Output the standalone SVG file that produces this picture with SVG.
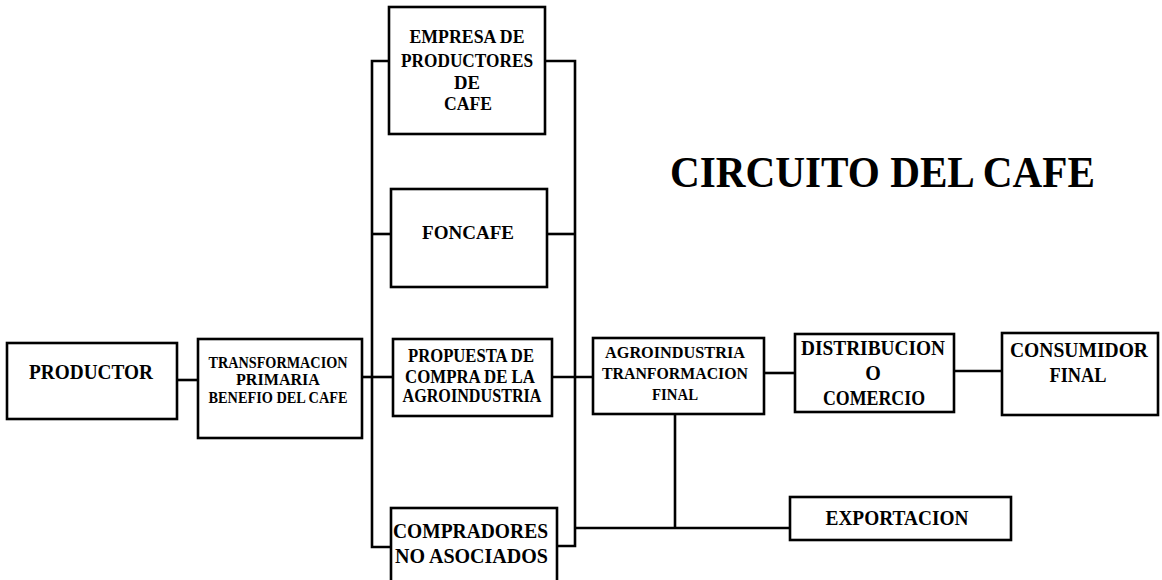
<svg xmlns="http://www.w3.org/2000/svg" width="1162" height="580" viewBox="0 0 1162 580">
<style>
.box{fill:#fff;stroke:#000;stroke-width:2.6}
.ln{fill:none;stroke:#000;stroke-width:2.6}
text{font-family:"Liberation Serif","Times New Roman",serif;font-weight:bold;fill:#000}
.c{text-anchor:middle}
</style>
<rect width="1162" height="580" fill="#fff"/>
<g id="connectors">
<line class="ln" x1="177" y1="380" x2="198" y2="380"/>
<line class="ln" x1="362" y1="377" x2="393" y2="377"/>
<path class="ln" d="M389,61 H372 V547 H391"/>
<path class="ln" d="M545,61 H575 V546 H557"/>
<line class="ln" x1="372" y1="234" x2="391" y2="234"/>
<line class="ln" x1="547" y1="234" x2="575" y2="234"/>
<line class="ln" x1="552" y1="377" x2="593" y2="377"/>
<line class="ln" x1="575" y1="528" x2="790" y2="528"/>
<line class="ln" x1="675" y1="414" x2="675" y2="528"/>
<line class="ln" x1="764" y1="373" x2="795" y2="373"/>
<line class="ln" x1="954" y1="371" x2="1002" y2="371"/>
</g>
<g id="title">
<text x="670" y="187" font-size="44" textLength="425" lengthAdjust="spacingAndGlyphs">CIRCUITO DEL CAFE</text>
</g>
<g id="productor">
<rect class="box" x="7" y="343" width="170" height="76"/>
<text class="c" x="91" y="379" font-size="22" textLength="124" lengthAdjust="spacingAndGlyphs">PRODUCTOR</text>
</g>
<g id="transformacion">
<rect class="box" x="198" y="339" width="164" height="99"/>
<text class="c" x="278" y="368" font-size="16.5" textLength="139" lengthAdjust="spacingAndGlyphs">TRANSFORMACION</text>
<text class="c" x="278" y="385" font-size="16.5" textLength="84" lengthAdjust="spacingAndGlyphs">PRIMARIA</text>
<text class="c" x="278" y="403" font-size="16.5" textLength="139" lengthAdjust="spacingAndGlyphs">BENEFIO DEL CAFE</text>
</g>
<g id="empresa">
<rect class="box" x="389" y="7" width="156" height="127"/>
<text class="c" x="467" y="43" font-size="19" textLength="115" lengthAdjust="spacingAndGlyphs">EMPRESA DE</text>
<text class="c" x="467" y="67" font-size="19" textLength="132" lengthAdjust="spacingAndGlyphs">PRODUCTORES</text>
<text class="c" x="467" y="89" font-size="19" textLength="26" lengthAdjust="spacingAndGlyphs">DE</text>
<text class="c" x="468" y="110" font-size="19" textLength="48" lengthAdjust="spacingAndGlyphs">CAFE</text>
</g>
<g id="foncafe">
<rect class="box" x="391" y="189" width="156" height="98"/>
<text class="c" x="468" y="239" font-size="19.5" textLength="92" lengthAdjust="spacingAndGlyphs">FONCAFE</text>
</g>
<g id="propuesta">
<rect class="box" x="393" y="339" width="159" height="77"/>
<text class="c" x="471" y="362" font-size="18.5" textLength="126" lengthAdjust="spacingAndGlyphs">PROPUESTA DE</text>
<text class="c" x="470" y="383" font-size="18.5" textLength="130" lengthAdjust="spacingAndGlyphs">COMPRA DE LA</text>
<text class="c" x="472" y="402" font-size="18.5" textLength="139" lengthAdjust="spacingAndGlyphs">AGROINDUSTRIA</text>
</g>
<g id="compradores">
<rect class="box" x="391" y="508" width="166" height="80"/>
<text x="393" y="538" font-size="21.5" textLength="155" lengthAdjust="spacingAndGlyphs">COMPRADORES</text>
<text x="395" y="563" font-size="21.5" textLength="153" lengthAdjust="spacingAndGlyphs">NO ASOCIADOS</text>
</g>
<g id="agroindustria">
<rect class="box" x="593" y="338" width="171" height="76"/>
<text class="c" x="675" y="358" font-size="17" textLength="140" lengthAdjust="spacingAndGlyphs">AGROINDUSTRIA</text>
<text class="c" x="675" y="379" font-size="17" textLength="146" lengthAdjust="spacingAndGlyphs">TRANFORMACION</text>
<text class="c" x="675" y="400" font-size="17" textLength="46" lengthAdjust="spacingAndGlyphs">FINAL</text>
</g>
<g id="distribucion">
<rect class="box" x="795" y="334" width="159" height="78"/>
<text class="c" x="873" y="355" font-size="20" textLength="144" lengthAdjust="spacingAndGlyphs">DISTRIBUCION</text>
<text class="c" x="873" y="380" font-size="20">O</text>
<text class="c" x="874" y="405" font-size="20" textLength="102" lengthAdjust="spacingAndGlyphs">COMERCIO</text>
</g>
<g id="consumidor">
<rect class="box" x="1002" y="333" width="156" height="82"/>
<text class="c" x="1079" y="357" font-size="21" textLength="138" lengthAdjust="spacingAndGlyphs">CONSUMIDOR</text>
<text class="c" x="1078" y="382" font-size="21" textLength="57" lengthAdjust="spacingAndGlyphs">FINAL</text>
</g>
<g id="exportacion">
<rect class="box" x="790" y="497" width="221" height="43"/>
<text class="c" x="897" y="525" font-size="20.5" textLength="143" lengthAdjust="spacingAndGlyphs">EXPORTACION</text>
</g>
</svg>
